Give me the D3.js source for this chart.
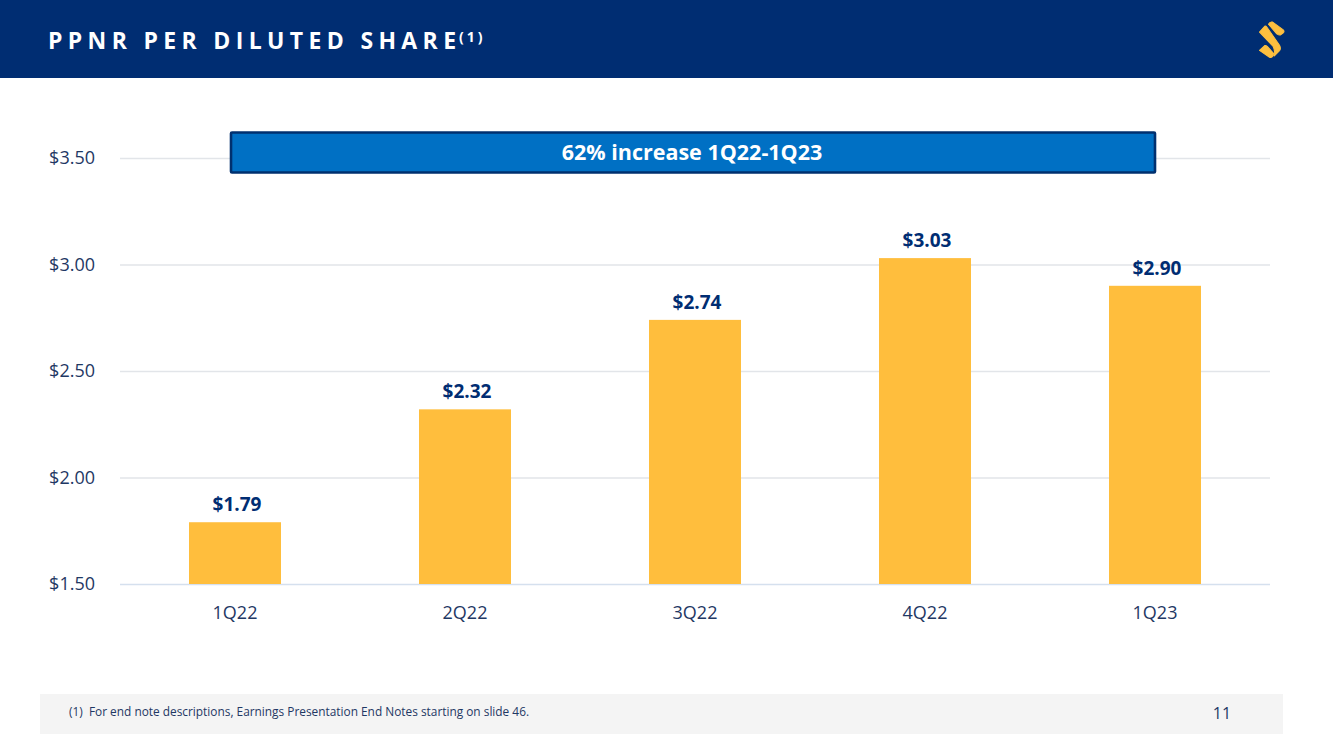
<!DOCTYPE html>
<html>
<head>
<meta charset="utf-8">
<script src="https://cdnjs.cloudflare.com/ajax/libs/d3/7.8.5/d3.min.js"></script>
<style>
html, body { margin: 0; padding: 0; background: #fff; }
svg { display: block; font-family: "Open Sans", sans-serif; }
</style>
</head>
<body>
<svg id="chart" width="1333" height="749"></svg>
<script>
var quarters = ['1Q22', '2Q22', '3Q22', '4Q22', '1Q23']
var ppnr = [1.79, 2.32, 2.74, 3.03, 2.90]
var yTicks = [1.5, 2.0, 2.5, 3.0, 3.5]
var titleText = 'PPNR PER DILUTED SHARE'
var titleNote = '(1)'
var calloutText = '62% increase 1Q22-1Q23'
var footnote = '(1)  For end note descriptions, Earnings Presentation End Notes starting on slide 46.'
var pageNumber = '11'

var navy = '#002d72'
var textBlue = '#1f3864'
var money = d3.format('$.2f')

var svg = d3.select('#chart')

// header
svg.append('rect').attr('width', 1333).attr('height', 78).attr('fill', navy)

// last letter gets no tracking so the note can sit right after it
var title = svg.append('text')
	.attr('x', 48).attr('y', 48.5)
	.attr('fill', '#fff')
	.attr('font-size', 23)
	.attr('font-weight', 700)
	.attr('letter-spacing', 5.35)
	.text(titleText.slice(0, -1))
title.append('tspan')
	.attr('letter-spacing', 0)
	.text(titleText.slice(-1))

svg.append('text')
	.attr('x', 459).attr('y', 42)
	.attr('fill', '#fff')
	.attr('font-size', 14)
	.attr('font-weight', 700)
	.attr('letter-spacing', 3)
	.text(titleNote)

var logo = svg.append('g')
	.attr('transform', 'translate(1229.5,9) scale(0.345)')
	.attr('fill', '#fdbf3f')
	.attr('stroke', '#fdbf3f')
	.attr('stroke-width', 3)
	.attr('stroke-linejoin', 'round')
logo.append('path').attr('d', 'M113,44 Q117,36 125,38 L155,60 Q161,65 155,70 L148,75 Q143,76 137,72 Z')
logo.append('path').attr('d', 'M87,67 L102,50 Q105,48 108,52 L145,105 Q150,114 145,121 L130,136 Q133,120 126,108 Z')
logo.append('path').attr('d', 'M87,120 L102,106 Q106,105 110,109 L129,130 Q125,143 116,140 Z')

// chart
var x = d3.scaleBand().domain(quarters).range([120, 1270]).paddingInner(0.6).paddingOuter(0.3)
var y = d3.scaleLinear().domain([1.5, 3.5]).range([584, 158])

var yAxis = svg.append('g')
	.attr('transform', 'translate(120,0)')
	.call(d3.axisLeft(y).tickValues(yTicks).tickFormat(money).tickSize(-1150).tickPadding(25))
yAxis.select('.domain').remove()
yAxis.selectAll('.tick line')
	.attr('stroke', function(d) { return d === 1.5 ? '#d5e0ee' : '#e2e5e9' })
	.attr('stroke-width', 1.3)
yAxis.selectAll('.tick text')
	.attr('fill', textBlue)
	.attr('font-size', 18)
	.attr('font-family', '"Open Sans", sans-serif')

var xAxis = svg.append('g')
	.attr('transform', 'translate(0,584)')
	.call(d3.axisBottom(x).tickSize(0).tickPadding(22))
xAxis.select('.domain').remove()
xAxis.selectAll('.tick text')
	.attr('fill', textBlue)
	.attr('font-size', 18)
	.attr('font-family', '"Open Sans", sans-serif')

svg.selectAll('.bar')
	.data(ppnr)
	.join('rect')
	.attr('class', 'bar')
	.attr('x', function(d, i) { return x(quarters[i]) })
	.attr('y', function(d) { return y(d) })
	.attr('width', x.bandwidth())
	.attr('height', function(d) { return y(1.5) - y(d) })
	.attr('fill', '#ffbe3d')

svg.selectAll('.bar-label')
	.data(ppnr)
	.join('text')
	.attr('class', 'bar-label')
	.attr('x', function(d, i) { return x(quarters[i]) + x.bandwidth() / 2 + 2 })
	.attr('y', function(d) { return y(d) - 11 })
	.attr('text-anchor', 'middle')
	.attr('fill', navy)
	.attr('font-size', 19)
	.attr('font-weight', 700)
	.text(money)

// callout
svg.append('rect')
	.attr('x', 231).attr('y', 132.5)
	.attr('width', 924).attr('height', 40)
	.attr('rx', 1)
	.attr('fill', '#0070c4')
	.attr('stroke', '#00306f')
	.attr('stroke-width', 2.6)
svg.append('text')
	.attr('x', 692).attr('y', 160)
	.attr('text-anchor', 'middle')
	.attr('fill', '#fff')
	.attr('font-size', 21.5)
	.attr('font-weight', 700)
	.text(calloutText)

// footer
svg.append('rect').attr('x', 40).attr('y', 694).attr('width', 1243).attr('height', 40).attr('fill', '#f4f4f4')
svg.append('text')
	.attr('x', 69).attr('y', 716)
	.attr('fill', textBlue)
	.attr('font-size', 11.87)
	.attr('xml:space', 'preserve')
	.style('white-space', 'pre')
	.text(footnote)
svg.append('text')
	.attr('x', 1222).attr('y', 719)
	.attr('text-anchor', 'middle')
	.attr('fill', textBlue)
	.attr('font-size', 16)
	.text(pageNumber)
</script>
</body>
</html>
